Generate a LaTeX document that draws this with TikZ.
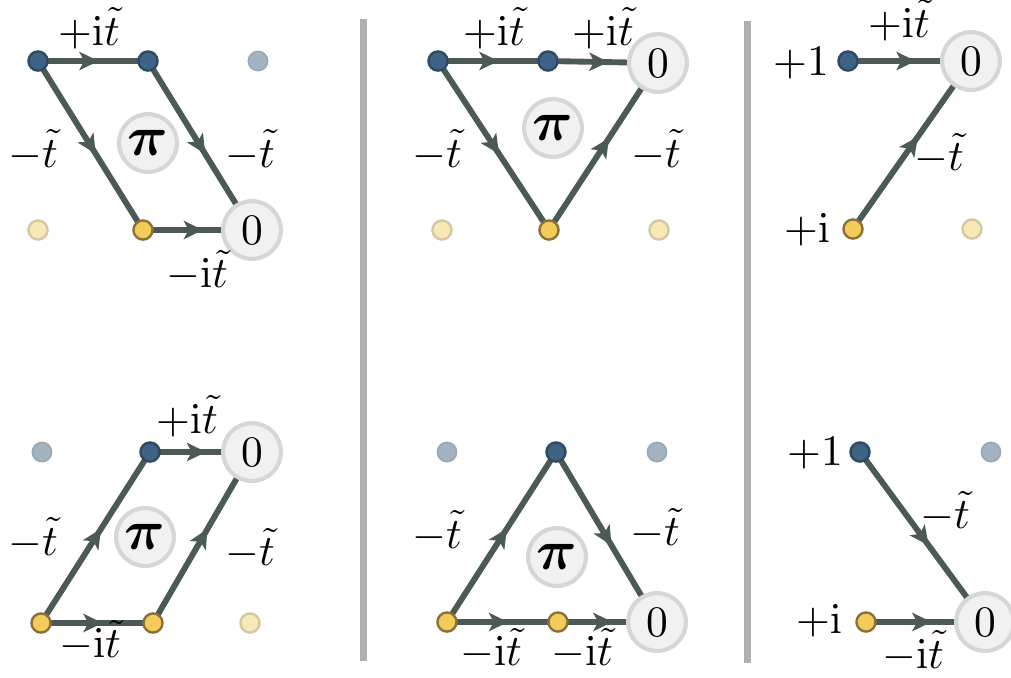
\documentclass[tikz,border=0pt]{standalone}
\usepackage{bm}
\usetikzlibrary{arrows.meta,decorations.markings}
\pgfdeclarelayer{background}
\pgfsetlayers{background,main}
\definecolor{edgecol}{HTML}{4B5957}
\definecolor{bluefill}{HTML}{3E6384}
\definecolor{blueborder}{HTML}{2E4A63}
\definecolor{yellowfill}{HTML}{F3CB5B}
\definecolor{yellowborder}{HTML}{8B7135}
\definecolor{fbfill}{HTML}{A3B3C0}
\definecolor{fbborder}{HTML}{97A8B6}
\definecolor{fyfill}{HTML}{F7E8B5}
\definecolor{fyborder}{HTML}{D3C7A4}
\definecolor{sitefill}{HTML}{F1F1F1}
\definecolor{siteborder}{HTML}{D6D6D6}
\definecolor{sepcol}{HTML}{B0B0B0}
\newcommand{\fluxpi}{\scalebox{1.3}{$\bm{\pi}$}}
\begin{document}
\begin{tikzpicture}[x=0.23pt,y=-0.23pt,
  bdot/.style={circle,fill=bluefill,draw=blueborder,line width=0.55pt,inner sep=0pt,minimum size=4.4pt},
  ydot/.style={circle,fill=yellowfill,draw=yellowborder,line width=0.55pt,inner sep=0pt,minimum size=4.4pt},
  fbdot/.style={circle,fill=fbfill,draw=fbborder,line width=0.4pt,inner sep=0pt,minimum size=4.4pt},
  fydot/.style={circle,fill=fyfill,draw=fyborder,line width=0.55pt,inner sep=0pt,minimum size=4.4pt},
  site/.style={circle,fill=sitefill,draw=siteborder,line width=0.95pt,inner sep=0pt,minimum size=13.3pt},
  hop/.style={draw=edgecol,line width=1.35pt,postaction={decorate},
    decoration={markings,mark=at position 0.55 with {\arrow[edgecol]{Stealth[length=4.4pt,width=4.2pt,inset=1.1pt]}}}},
  lbl/.style={anchor=base,inner sep=0pt},
  sepline/.style={draw=sepcol,line width=1.4pt}
]
\useasboundingbox (0,0) rectangle (1011,677);

% separators
\coordinate (s1t) at (363.5,19); \coordinate (s1b) at (363.5,661);
\coordinate (s2t) at (747.5,21); \coordinate (s2b) at (747.5,663);
\draw[sepline] (s1t) -- (s1b);
\draw[sepline] (s2t) -- (s2b);

% ---------- Panel A ----------
\node[bdot] (a1) at (38,61) {};
\node[bdot] (a2) at (148,61) {};
\node[fbdot] (a3) at (258,61) {};
\node[fydot] (a4) at (38,230) {};
\node[ydot] (a5) at (143,230) {};
\node[site] (a0) at (252,230) {$0$};
\node[site] (api) at (148,143) {\fluxpi};
\node[lbl] (la1) at (89,45) {$+\mathrm{i}\tilde{t}$};
\node[lbl] (la2) at (33,167) {$-\tilde{t}$};
\node[lbl] (la3) at (250,167) {$-\tilde{t}$};
\node[lbl] (la4) at (197,287) {$-\mathrm{i}\tilde{t}$};

% ---------- Panel B ----------
\node[bdot] (b1) at (438,61) {};
\node[bdot] (b2) at (548,61) {};
\node[site] (b0) at (658,63) {$0$};
\node[fydot] (b4) at (442,230) {};
\node[ydot] (b5) at (549,230) {};
\node[fydot] (b6) at (659,230) {};
\node[site] (bpi) at (553,128) {\fluxpi};
\node[lbl] (lb1) at (494,45) {$+\mathrm{i}\tilde{t}$};
\node[lbl] (lb2) at (603,45) {$+\mathrm{i}\tilde{t}$};
\node[lbl] (lb3) at (437,167) {$-\tilde{t}$};
\node[lbl] (lb4) at (656,167) {$-\tilde{t}$};

% ---------- Panel C ----------
\node[bdot] (c1) at (848,61) {};
\node[site] (c0) at (971,61) {$0$};
\node[ydot] (c5) at (853,229) {};
\node[fydot] (c6) at (972,229) {};
\node[lbl] (lc1) at (801,75) {$+1$};
\node[lbl] (lc2) at (807,242) {$+\mathrm{i}$};
\node[lbl] (lc3) at (899,37) {$+\mathrm{i}\tilde{t}$};
\node[lbl] (lc4) at (939,170) {$-\tilde{t}$};

% ---------- Panel D ----------
\node[fbdot] (d1) at (42,452) {};
\node[bdot] (d2) at (150,452) {};
\node[site] (d0) at (252,452) {$0$};
\node[ydot] (d4) at (41,623) {};
\node[ydot] (d5) at (153,623) {};
\node[fydot] (d6) at (250,623) {};
\node[site] (dpi) at (145,537) {\fluxpi};
\node[lbl] (ld1) at (187,433) {$+\mathrm{i}\tilde{t}$};
\node[lbl] (ld2) at (33,555) {$-\tilde{t}$};
\node[lbl] (ld3) at (250,565) {$-\tilde{t}$};
\node[lbl] (ld4) at (90,657) {$-\mathrm{i}\tilde{t}$};

% ---------- Panel E ----------
\node[fbdot] (e1) at (447,452) {};
\node[bdot] (e2) at (556,452) {};
\node[fbdot] (e3) at (657,452) {};
\node[ydot] (e4) at (447,622) {};
\node[ydot] (e5) at (558,622) {};
\node[site] (e0) at (657,622) {$0$};
\node[site] (epi) at (557,557) {\fluxpi};
\node[lbl] (le1) at (437,548) {$-\tilde{t}$};
\node[lbl] (le2) at (655,545) {$-\tilde{t}$};
\node[lbl] (le3) at (491,665) {$-\mathrm{i}\tilde{t}$};
\node[lbl] (le4) at (582,665) {$-\mathrm{i}\tilde{t}$};

% ---------- Panel F ----------
\node[bdot] (f1) at (860,452) {};
\node[fbdot] (f2) at (991,452) {};
\node[ydot] (f5) at (866,622) {};
\node[site] (f0) at (985,622) {$0$};
\node[lbl] (lf1) at (815,465) {$+1$};
\node[lbl] (lf2) at (819,633) {$+\mathrm{i}$};
\node[lbl] (lf3) at (945,528) {$-\tilde{t}$};
\node[lbl] (lf4) at (913,668) {$-\mathrm{i}\tilde{t}$};

\begin{pgfonlayer}{background}
\draw[hop] (a1.center) -- (a2.center);
\draw[hop] (a1.center) -- (a5.center);
\draw[hop] (a2.center) -- (a0.center);
\draw[hop] (a5.center) -- (a0.center);

\draw[hop] (b1.center) -- (b2.center);
\draw[hop] (b2.center) -- (b0.center);
\draw[hop] (b1.center) -- (b5.center);
\draw[hop] (b5.center) -- (b0.center);

\draw[hop] (c1.center) -- (c0.center);
\draw[hop] (c5.center) -- (c0.center);

\draw[hop] (d4.center) -- (d2.center);
\draw[hop] (d4.center) -- (d5.center);
\draw[hop] (d5.center) -- (d0.center);
\draw[hop] (d2.center) -- (d0.center);

\draw[hop] (e4.center) -- (e2.center);
\draw[hop] (e2.center) -- (e0.center);
\draw[hop] (e4.center) -- (e5.center);
\draw[hop] (e5.center) -- (e0.center);

\draw[hop] (f1.center) -- (f0.center);
\draw[hop] (f5.center) -- (f0.center);
\end{pgfonlayer}
\end{tikzpicture}
\end{document}
